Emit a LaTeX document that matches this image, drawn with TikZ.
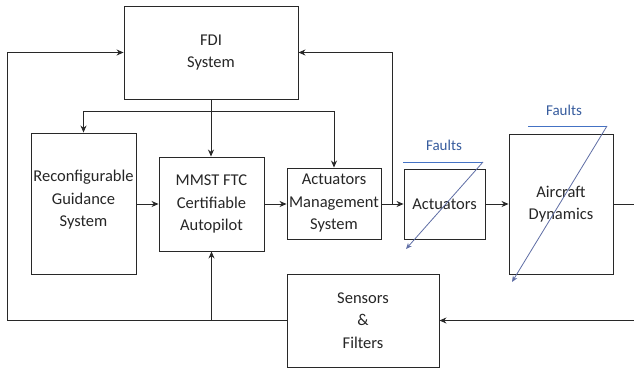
\documentclass[tikz,border=0pt]{standalone}
\usepackage{fontspec}
\setmainfont{Carlito}
\usetikzlibrary{arrows.meta}
\definecolor{faultblue}{RGB}{68,114,196}
\definecolor{diagblue}{RGB}{95,110,165}
\definecolor{linegray}{RGB}{40,40,40}
\tikzset{
  blk/.style={draw=linegray, line width=0.9pt, fill=white, align=center, inner sep=0pt,
    font=\fontsize{16.5}{22.5}\selectfont, text=black!85},
  arr/.style={draw=linegray, line width=0.9pt, -{Stealth[length=7pt,width=6pt]}},
  ln/.style={draw=linegray, line width=0.9pt},
  fline/.style={draw=faultblue, line width=1pt},
  fdiag/.style={draw=diagblue, line width=0.8pt, -{Stealth[length=6pt,width=5pt]}},
  flabel/.style={text=faultblue!80!black, font=\fontsize{15}{18}\selectfont, inner sep=0pt}
}
\begin{document}
\begin{tikzpicture}[x=1pt,y={(0pt,-1pt)}]
\useasboundingbox (0,0) rectangle (634,372);
% boxes
\node[blk, minimum width=174pt, minimum height=93pt] (fdi) at (211,52.5) {FDI\\System};
\node[blk, minimum width=105pt, minimum height=141pt] (recon) at (83.5,203.5) {};
\node[blk, draw=none, fill=none] (recontxt) at (83.5,200) {Reconfigurable\\Guidance\\System};
\node[blk, minimum width=105pt, minimum height=94pt] (mmst) at (211.5,204) {MMST FTC\\Certifiable\\Autopilot};
\node[blk, minimum width=94pt, minimum height=71pt] (ams) at (334,203.5) {Actuators\\Management\\System};
\node[blk, minimum width=81pt, minimum height=70pt] (act) at (444.5,204) {Actuators};
\node[blk, minimum width=104pt, minimum height=140pt] (ac) at (561,204) {Aircraft\\Dynamics};
\node[blk, minimum width=152pt, minimum height=93pt] (sens) at (363,320.5) {Sensors\\\&\\Filters};
% helper coordinates
\coordinate (lft) at (7,320.5);
\coordinate (br) at (211,111);
\coordinate (fb) at (392,204);
\coordinate (rt1) at (634,204);
\coordinate (rt2) at (634,320.5);
\coordinate (mj) at (211.5,320.5);
% connectors
\draw[arr] (sens.west) -- (lft) |- (fdi.west);
\draw[arr] (mj) -- (mmst.south);
\draw[arr] (fdi.south) -- (fdi.south |- mmst.north);
\draw[arr] (br) -| (recon.north);
\draw[arr] (br) -| (ams.north);
\draw[arr] (recon.east |- mmst.east) -- (mmst.west);
\draw[arr] (mmst.east) -- (mmst.east -| ams.west);
\draw[arr] (ams.east |- act.west) -- (act.west);
\draw[arr] (fb) |- (fdi.east);
\draw[arr] (act.east) -- (act.east -| ac.west);
\draw[ln] (ac.east) -- (rt1);
\draw[arr] (rt2) -- (sens.east);
% faults
\coordinate (f1a) at (403,162);
\coordinate (f1b) at (483,162);
\coordinate (f1c) at (406,249);
\draw[fline] (f1a) -- (f1b);
\draw[fdiag] (f1b) -- (f1c);
\node[flabel] (fl1) at (444,145) {Faults};
\coordinate (f2a) at (528,126);
\coordinate (f2b) at (607,126);
\coordinate (f2c) at (512,282);
\draw[fline] (f2a) -- (f2b);
\draw[fdiag] (f2b) -- (f2c);
\node[flabel] (fl2) at (564,110) {Faults};
\end{tikzpicture}
\end{document}
